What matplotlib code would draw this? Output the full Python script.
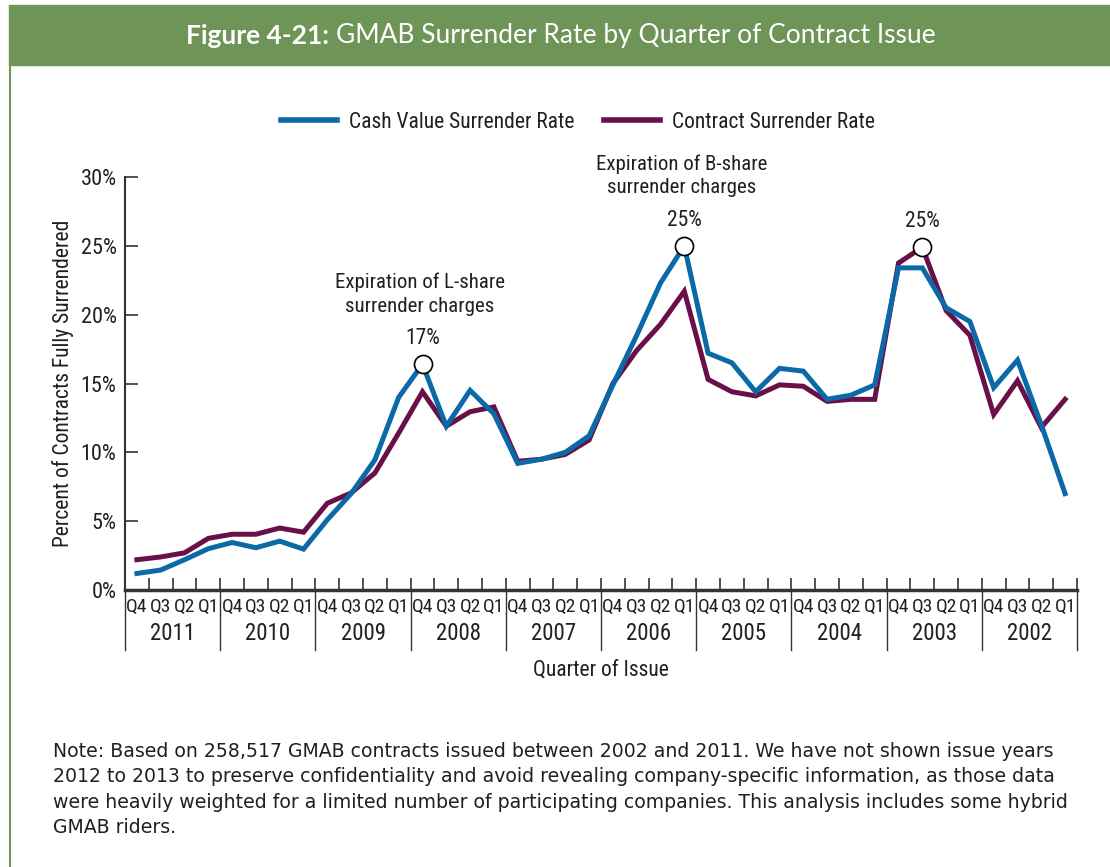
import numpy as np
import matplotlib.pyplot as plt
from matplotlib import font_manager
from matplotlib.lines import Line2D
from matplotlib.patches import Rectangle

years = ['2011', '2010', '2009', '2008', '2007', '2006', '2005', '2004', '2003', '2002']
quarters = ['Q4', 'Q3', 'Q2', 'Q1']

# percent of contracts fully surrendered, Q4 2011 ... Q1 2002
cash_value = [1.2, 1.45, 2.2, 3.0, 3.45, 3.07, 3.55, 2.97,
              5.1, 7.0, 9.45, 14.0, 16.4, 11.9, 14.5, 12.8,
              9.2, 9.5, 10.0, 11.2, 14.9, 18.5, 22.3, 25.0,
              17.2, 16.5, 14.4, 16.1, 15.9, 13.85, 14.15, 14.9,
              23.4, 23.4, 20.5, 19.5, 14.7, 16.7, 12.0, 7.0]
contract = [2.2, 2.4, 2.7, 3.75, 4.05, 4.05, 4.5, 4.2,
            6.3, 7.05, 8.5, 11.4, 14.4, 11.9, 12.95, 13.3,
            9.35, 9.5, 9.85, 10.9, 15.0, 17.4, 19.3, 21.7,
            15.3, 14.4, 14.1, 14.9, 14.8, 13.7, 13.85, 13.85,
            23.75, 24.9, 20.3, 18.5, 12.75, 15.2, 11.8, 13.85]

# annotated peaks: (quarter index, value, label, note)
peaks = [(12, 16.4, '17%', 'Expiration of L-share\nsurrender charges'),
         (23, 25.0, '25%', 'Expiration of B-share\nsurrender charges'),
         (33, 24.9, '25%', None)]

blue = '#0b69a8'
plum = '#6a1048'
green = '#6e9458'
txt = '#231f20'

# look for a narrow face for the chart text
fonts = font_manager.fontManager.ttflist
names = {f.name for f in fonts}
narrow = None
for n in ['Liberation Sans Narrow', 'Roboto Condensed', 'Open Sans Condensed',
          'Noto Sans Condensed', 'DejaVu Sans Condensed']:
    if n in names:
        narrow = dict(family=n)
        break
if narrow is None:
    for n in ['Noto Sans', 'Open Sans', 'Roboto', 'DejaVu Sans']:
        if any(f.name == n and 'condensed' in str(f.stretch) for f in fonts):
            narrow = dict(family=n, stretch='condensed')
            break
if narrow is None:
    narrow = dict(family='DejaVu Sans')
plt.rcParams['font.family'] = [narrow['family'], 'DejaVu Sans']
plt.rcParams['font.stretch'] = narrow.get('stretch', 'normal')
cond = narrow['family'] != 'DejaVu Sans'
fs = 15.5 if cond else 13.5

fig = plt.figure(figsize=(11.1, 8.67), dpi=100)
W, H = 1110, 867

# title band and left frame
fig.patches.append(Rectangle((9 / W, 1 - 65 / H), 1 - 9 / W, 60 / H,
                             transform=fig.transFigure, color=green, zorder=0))
fig.add_artist(Line2D([9.5 / W, 9.5 / W], [0, 1 - 65 / H], color=green, lw=1.5))

r = fig.canvas.get_renderer()
t1 = fig.text(0, 1 - 36 / H, 'Figure 4-21: ', family='Lato', weight='bold',
              fontsize=19, color='white', va='center', stretch='normal')
t2 = fig.text(0, 1 - 36 / H, 'GMAB Surrender Rate by Quarter of Contract Issue',
              family='Lato', fontsize=19, color='white', va='center',
              stretch='normal')
w1 = t1.get_window_extent(r).width
w2 = t2.get_window_extent(r).width
x0 = 561 - (w1 + w2) / 2
t1.set_x(x0 / W)
t2.set_x((x0 + w1) / W)

ax = fig.add_axes([125 / W, 1 - 590 / H, 952 / W, 413 / H])
x = np.arange(len(cash_value))
ax.plot(x, contract, color=plum, lw=3.6, solid_joinstyle='miter', zorder=3)
ax.plot(x, cash_value, color=blue, lw=3.6, solid_joinstyle='miter', zorder=4)

for i, v, lab, note in peaks:
    ax.plot(i, v, 'o', ms=13, mfc='white', mec='black', mew=1.2, zorder=5)
    ax.annotate(lab, (i, v), xytext=(0, 11), textcoords='offset points',
                ha='center', va='bottom', fontsize=fs, color=txt)
    if note:
        ax.annotate(note, (i, v), xytext=(-2, 35), textcoords='offset points',
                    ha='center', va='bottom', fontsize=fs - 0.5, color=txt,
                    linespacing=1.3)

ax.set_xlim(-0.5, 39.5)
ax.set_ylim(0, 30)
ax.set_yticks(range(0, 31, 5))
ax.set_yticklabels([f'{v}%' for v in range(0, 31, 5)], fontsize=fs + 0.5,
                   color=txt)
ax.set_xticks(np.arange(-0.5, 40, 1))
ax.set_xticklabels([])
ax.tick_params(axis='both', direction='in', length=9, width=1.2, color='#333333')
ax.tick_params(axis='y', pad=6)
for s in ['top', 'right']:
    ax.spines[s].set_visible(False)
ax.spines['left'].set_linewidth(1.5)
ax.spines['bottom'].set_linewidth(2.5)
ax.spines['left'].set_color('#333333')
ax.spines['bottom'].set_color('#333333')

tr = ax.get_xaxis_transform()
for k in range(len(years) + 1):
    ax.plot([k * 4 - 0.5] * 2, [-0.005, -0.145], transform=tr, color='#333333',
            lw=1, clip_on=False)
for k, yr in enumerate(years):
    ax.text(k * 4 + 1.5, -0.105, yr, transform=tr, ha='center', va='center',
            fontsize=fs + 1, color=txt)
    for j, q in enumerate(quarters):
        ax.text(k * 4 + j, -0.04, q, transform=tr, ha='center', va='center',
                fontsize=fs - 1.5, color=txt)

ax.set_ylabel('Percent of Contracts Fully Surrendered', fontsize=fs, color=txt,
              labelpad=5 if cond else 10)
ax.text(19.5, -0.195, 'Quarter of Issue', transform=tr, ha='center', va='center',
        fontsize=fs, color=txt)

handles = [Line2D([], [], color=blue, lw=4), Line2D([], [], color=plum, lw=4)]
fig.legend(handles, ['Cash Value Surrender Rate', 'Contract Surrender Rate'],
           loc='center', bbox_to_anchor=(578 / W, 1 - 122 / H), ncol=2,
           frameon=False, fontsize=fs, handlelength=2.6, handletextpad=0.56,
           columnspacing=1.4, labelcolor=txt)

note = ('Note: Based on 258,517 GMAB contracts issued between 2002 and 2011. '
        'We have not shown issue years\n'
        '2012 to 2013 to preserve confidentiality and avoid revealing '
        'company-specific information, as those data\n'
        'were heavily weighted for a limited number of participating companies. '
        'This analysis includes some hybrid\n'
        'GMAB riders.')
fig.text(53 / W, 1 - 742 / H, note, family='DejaVu Sans', stretch='normal',
         fontsize=13.55, color=txt, va='top', ha='left', linespacing=1.43)

fig.savefig('out.png', dpi=100)
